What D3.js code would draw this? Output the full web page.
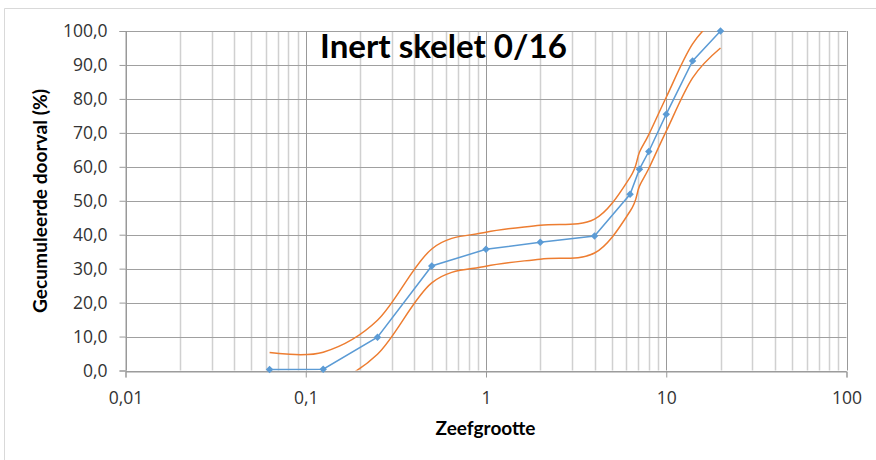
<!DOCTYPE html>
<html>
<head>
<meta charset="utf-8">
<script src="https://cdn.jsdelivr.net/npm/d3@7"></script>
<style>
  html, body { margin: 0; padding: 0; background: #fff; }
  svg { display: block; }
</style>
</head>
<body>
<svg id="chart" width="876" height="460"></svg>
<script>
// ---- data ----
const sieveSizes = [0.063, 0.125, 0.25, 0.5, 1, 2, 4, 6.3, 7.1, 8, 10, 14, 20];
const passing    = [0.3, 0.4, 9.8, 30.8, 35.7, 37.8, 39.6, 51.9, 59.3, 64.5, 75.5, 91.2, 100];
const upperLimit = [5.3, 5.4, 14.8, 35.8, 40.7, 42.8, 44.6, 56.9, 64.3, 69.5, 80.5, 96.2, 105];
const lowerLimit = [-4.7, -4.6, 4.8, 25.8, 30.7, 32.8, 34.6, 46.9, 54.3, 59.5, 70.5, 86.2, 95];
const xTickValues = [0.01, 0.1, 1, 10, 100];
const xTickLabels = ["0,01", "0,1", "1", "10", "100"];
const yTickValues = [0, 10, 20, 30, 40, 50, 60, 70, 80, 90, 100];
const titleText = "Inert skelet 0/16";
const xTitleText = "Zeefgrootte";
const yTitleText = "Gecumuleerde doorval (%)";

// ---- layout ----
const svg = d3.select("#chart");
const L = 125.5, R = 846.5, T = 31, B = 370.5;
const x = d3.scaleLog().domain([0.01, 100]).range([L, R]);
const y = d3.scaleLinear().domain([0, 100]).range([B, T]);

// outer chart border (only left & top visible)
svg.append("path").attr("d", `M4.5,460 V8.5 H876`).attr("fill", "none")
   .attr("stroke", "#d9d9d9").attr("stroke-width", 1);

// minor vertical gridlines
const minor = [];
for (let e = -2; e < 2; e++) for (let m = 2; m <= 9; m++) minor.push(m * Math.pow(10, e));
svg.append("g").selectAll("line").data(minor).join("line")
   .attr("x1", d => Math.round(x(d)) + 0.5).attr("x2", d => Math.round(x(d)) + 0.5)
   .attr("y1", T).attr("y2", B)
   .attr("stroke", "#d0d0d0").attr("stroke-width", 1.5);

// horizontal gridlines
svg.append("g").selectAll("line").data(yTickValues).join("line")
   .attr("x1", L).attr("x2", R)
   .attr("y1", d => Math.round(y(d)) + 0.5).attr("y2", d => Math.round(y(d)) + 0.5)
   .attr("stroke", "#a0a0a0").attr("stroke-width", 1);

// major vertical gridlines
svg.append("g").selectAll("line").data(xTickValues).join("line")
   .attr("x1", d => Math.round(x(d)) + 0.5).attr("x2", d => Math.round(x(d)) + 0.5)
   .attr("y1", T).attr("y2", B)
   .attr("stroke", "#999999").attr("stroke-width", 1);

// axes
const tickFont = "'Open Sans', sans-serif";
const xAxis = d3.axisBottom(x).tickValues(xTickValues)
   .tickFormat((d, i) => xTickLabels[i]).tickSize(6).tickPadding(14);
const gx = svg.append("g").attr("transform", `translate(0,${Math.round(B) + 0.5})`).call(xAxis);
gx.select(".domain").attr("stroke", "#999999");
gx.selectAll(".tick line").attr("stroke", "#999999");
gx.selectAll(".tick text").attr("font-family", tickFont).attr("font-size", 17.5)
   .attr("fill", "#333333");

const yAxis = d3.axisLeft(y).tickValues(yTickValues)
   .tickFormat(d => d3.format(".1f")(d).replace(".", ",")).tickSize(6).tickPadding(12);
const gy = svg.append("g").attr("transform", `translate(${L},0)`).call(yAxis);
gy.select(".domain").attr("stroke", "#999999");
gy.selectAll(".tick line").attr("stroke", "#999999");
gy.selectAll(".tick text").attr("font-family", tickFont).attr("font-size", 17.5)
   .attr("fill", "#333333");

// clip for the envelope curves
svg.append("clipPath").attr("id", "plotclip").append("rect")
   .attr("x", 0).attr("y", T).attr("width", 876).attr("height", B - T);

const pts = arr => sieveSizes.map((s, i) => [x(s), y(arr[i])]);
const smooth = d3.line().curve(d3.curveCatmullRom.alpha(0));
const straight = d3.line();

svg.append("g").attr("clip-path", "url(#plotclip)").selectAll("path")
   .data([upperLimit, lowerLimit]).join("path")
   .attr("d", d => smooth(pts(d)))
   .attr("fill", "none").attr("stroke", "#ed7d31").attr("stroke-width", 1.5);

svg.append("path").attr("d", straight(pts(passing)))
   .attr("fill", "none").attr("stroke", "#5b9bd5").attr("stroke-width", 1.5);

const diamond = d3.symbol(d3.symbolSquare, 28);
svg.append("g").selectAll("path").data(pts(passing)).join("path")
   .attr("d", diamond)
   .attr("transform", d => `translate(${d[0]},${d[1]}) rotate(45)`)
   .attr("fill", "#5b9bd5");

// titles, fitted to measured widths
function fitText(sel, target) {
  const base = +sel.attr("font-size");
  const len = sel.node().getComputedTextLength();
  if (len > 0) sel.attr("font-size", base * target / len);
  return sel;
}
const titleFont = "Lato, 'Open Sans', sans-serif";
fitText(svg.append("text").text(titleText)
   .attr("x", 443.5).attr("y", 57.5).attr("text-anchor", "middle")
   .attr("font-family", titleFont).attr("font-weight", "bold").attr("font-size", 32)
   .attr("fill", "#000"), 247);

fitText(svg.append("text").text(xTitleText)
   .attr("x", 485.5).attr("y", 434.5).attr("text-anchor", "middle")
   .attr("font-family", titleFont).attr("font-weight", "bold").attr("font-size", 18)
   .attr("fill", "#000"), 100);

fitText(svg.append("text").text(yTitleText)
   .attr("transform", "translate(47,201) rotate(-90)").attr("text-anchor", "middle")
   .attr("font-family", titleFont).attr("font-weight", "bold").attr("font-size", 18)
   .attr("fill", "#000"), 224);
</script>
</body>
</html>
